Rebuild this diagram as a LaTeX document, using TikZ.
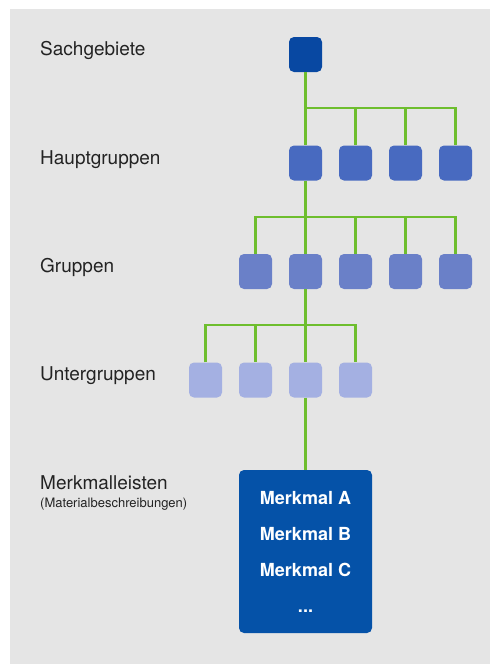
\documentclass[tikz,border=0pt]{standalone}
\usepackage{fontspec}
\setmainfont{TeX Gyre Heros}
\definecolor{BgGrey}{RGB}{229, 229, 229}
\definecolor{LabelGrey}{RGB}{35, 35, 35}
\definecolor{LineGreen}{RGB}{110, 190, 46}
\definecolor{SachBlue}{RGB}{8, 72, 162}
\definecolor{HauptBlue}{RGB}{72, 106, 192}
\definecolor{GrpBlue}{RGB}{106, 128, 200}
\definecolor{UnterBlue}{RGB}{164, 176, 226}
\definecolor{MerkBlue}{RGB}{5, 82, 168}

\begin{document}
\begin{tikzpicture}[x=1pt, y=-1pt,
    grpbox/.style={rounded corners=5pt, minimum width=33pt, minimum height=35pt, inner sep=0pt},
    link/.style={draw=LineGreen, line width=2.5pt},
    level/.style={anchor=base west, inner sep=0pt, text=LabelGrey, font=\fontsize{19}{21}\selectfont}]

    % Background
    \useasboundingbox (0,0) rectangle (490,664);
    \fill[BgGrey] (10,9) rectangle (490,664);

    % Level labels
    \node[level] (lsach) at (40,55) {Sachgebiete};
    \node[level] (lhaupt) at (40,164) {Hauptgruppen};
    \node[level] (lgrp) at (40,272) {Gruppen};
    \node[level] (lunter) at (40,380) {Untergruppen};
    \node[level] (lmerk) at (40,489) {Merkmalleisten};
    \node[level, font=\fontsize{13}{15}\selectfont] (lmat) at (40,507) {(Materialbeschreibungen)};

    % Boxes, one row per level
    \node[grpbox, fill=SachBlue] (s) at (305.5,54.5) {};
    \foreach \i/\x in {1/305.5, 2/355.5, 3/405.5, 4/455.5}
        \node[grpbox, fill=HauptBlue] (h\i) at (\x,163) {};
    \foreach \i/\x in {1/255.5, 2/305.5, 3/355.5, 4/405.5, 5/455.5}
        \node[grpbox, fill=GrpBlue] (g\i) at (\x,271.5) {};
    \foreach \i/\x in {1/205.5, 2/255.5, 3/305.5, 4/355.5}
        \node[grpbox, fill=UnterBlue] (u\i) at (\x,380) {};

    % Merkmalleiste
    \node[grpbox, fill=MerkBlue, minimum width=133pt, minimum height=163pt, text=white,
        font=\bfseries\fontsize{18}{36}\selectfont, align=center] (m) at (305.5,551.5)
        {Merkmal A\\Merkmal B\\Merkmal C\\...};

    % Connectors
    \coordinate (bar1) at (305.5,108);
    \coordinate (bar2) at (305.5,217);
    \coordinate (bar3) at (305.5,325);

    \draw[link] (s) -- (h1);
    \draw[link] (bar1) -| (h4.north);
    \foreach \i in {2,3}
        \draw[link] (bar1 -| h\i) -- (h\i.north);

    \draw[link] (h1) -- (g2);
    \draw[link] (g1.north) |- (bar2) -| (g5.north);
    \foreach \i in {3,4}
        \draw[link] (bar2 -| g\i) -- (g\i.north);

    \draw[link] (g2) -- (u3);
    \draw[link] (u1.north) |- (bar3) -| (u4.north);
    \draw[link] (bar3 -| u2) -- (u2.north);

    \draw[link] (u3) -- (m);
\end{tikzpicture}
\end{document}
